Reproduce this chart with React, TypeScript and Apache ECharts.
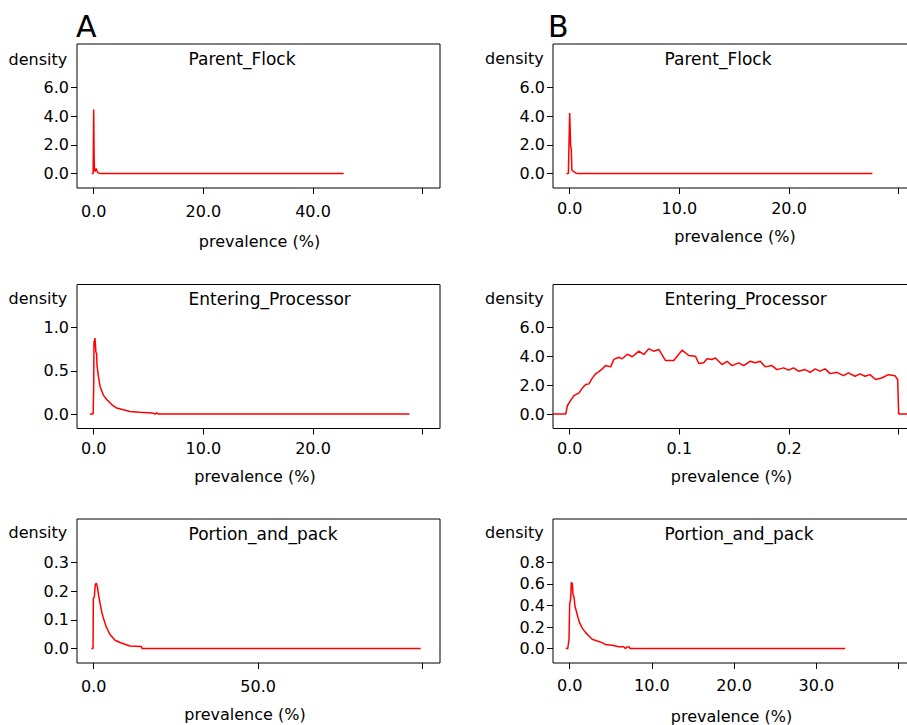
import React, { useEffect, useRef } from "react";
import * as echarts from "echarts";

const FONT = "DejaVu Sans";

// ---------- data (prevalence %, density) ----------
const aParentFlock: number[][] = [
  [-0.35, 0], [-0.1, 0], [0.0, 4.45], [0.08, 1.2], [0.14, 0.25], [0.3, 0.15],
  [0.45, 0.35], [0.6, 0.2], [0.8, 0.05], [1.2, 0], [45.6, 0],
];
const aEntering: number[][] = [
  [-0.35, 0], [-0.05, 0], [0.0, 0.3], [0.03, 0.85], [0.08, 0.82], [0.12, 0.88],
  [0.18, 0.88], [0.2, 0.72], [0.27, 0.7], [0.3, 0.57], [0.43, 0.44], [0.58, 0.32],
  [0.88, 0.22], [1.19, 0.17], [1.64, 0.11], [2.1, 0.07], [2.7, 0.05], [3.3, 0.03],
  [4.2, 0.02], [5.4, 0.012], [5.6, 0.0], [5.75, 0.015], [5.9, 0], [28.8, 0],
];
const aPortion: number[][] = [
  [-0.7, 0], [-0.2, 0], [-0.1, 0.174], [0.2, 0.18], [0.5, 0.223], [0.8, 0.227],
  [1.1, 0.216], [1.5, 0.185], [1.9, 0.16], [2.4, 0.13], [2.9, 0.108], [3.7, 0.079],
  [4.9, 0.05], [6.5, 0.029], [8.0, 0.021], [9.5, 0.015], [11.0, 0.009], [14.5, 0.007],
  [14.7, 0], [99.4, 0],
];
const bParentFlock: number[][] = [
  [-0.3, 0], [-0.12, 0], [0.0, 4.2], [0.09, 1.9], [0.15, 1.7], [0.2, 0.25],
  [0.3, 0.18], [0.55, 0.05], [0.7, 0], [27.6, 0],
];
const bEntering: number[][] = [
  [-0.015, 0], [-0.0036, 0], [-0.0021, 0.58], [0.0009, 0.95], [0.0039, 1.28],
  [0.0085, 1.47], [0.0115, 1.8], [0.0146, 2.05], [0.0176, 2.1], [0.0206, 2.5],
  [0.0237, 2.8], [0.0267, 2.95], [0.0297, 3.14], [0.0328, 3.37], [0.0373, 3.28],
  [0.0403, 3.8], [0.0449, 3.95], [0.0479, 3.84], [0.0525, 4.16], [0.057, 3.98],
  [0.0631, 4.37], [0.0676, 4.14], [0.0722, 4.53], [0.0767, 4.37], [0.0813, 4.49],
  [0.0874, 3.72], [0.0949, 3.72], [0.1025, 4.44], [0.1086, 4.07], [0.1147, 4.02],
  [0.1177, 3.51], [0.1222, 3.56], [0.1253, 3.84], [0.1298, 3.79], [0.1328, 3.9],
  [0.1389, 3.44], [0.1435, 3.67], [0.148, 3.37], [0.1541, 3.56], [0.1586, 3.37],
  [0.1647, 3.67], [0.1692, 3.56], [0.1738, 3.67], [0.1783, 3.28], [0.1844, 3.37],
  [0.189, 3.09], [0.195, 3.21], [0.1996, 3.05], [0.2041, 3.21], [0.2087, 2.98],
  [0.2147, 3.09], [0.2193, 2.9], [0.2238, 3.14], [0.2284, 2.98], [0.2329, 3.14],
  [0.2375, 2.81], [0.2436, 2.9], [0.2496, 2.67], [0.2542, 2.86], [0.2602, 2.63],
  [0.2648, 2.79], [0.2693, 2.63], [0.2739, 2.74], [0.279, 2.4], [0.2845, 2.51],
  [0.2906, 2.74], [0.2966, 2.67], [0.2991, 2.4], [0.3, 0], [0.32, 0],
];
const bPortion: number[][] = [
  [-0.48, 0], [-0.24, 0], [-0.08, 0.086], [0.0, 0.41], [0.12, 0.46], [0.2, 0.615],
  [0.32, 0.6], [0.4, 0.5], [0.52, 0.48], [0.65, 0.39], [0.8, 0.35], [1.0, 0.29],
  [1.2, 0.24], [1.53, 0.19], [1.94, 0.148], [2.34, 0.117], [2.74, 0.086], [3.35, 0.07],
  [3.95, 0.055], [4.35, 0.037], [5.16, 0.031], [5.97, 0.018], [6.57, 0.018], [6.77, 0],
  [6.98, 0.015], [7.26, 0.015], [7.34, 0], [33.5, 0],
];

// ---------- tick values ----------
const aParentXTicks = [0, 20, 40, 60];
const aParentXLabels = [0, 20, 40];
const aEnterXTicks = [0, 10, 20, 30];
const aEnterXLabels = [0, 10, 20];
const aPortionXTicks = [0, 50, 100];
const aPortionXLabels = [0, 50];
const bParentXTicks = [0, 10, 20, 30];
const bParentXLabels = [0, 10, 20];
const bEnterXTicks = [0, 0.1, 0.2, 0.3];
const bEnterXLabels = [0, 0.1, 0.2];
const bPortionXTicks = [0, 10, 20, 30, 40];
const bPortionXLabels = [0, 10, 20, 30];

const aParentYTicks = [0, 2, 4, 6];
const aEnterYTicks = [0, 0.5, 1.0];
const aPortionYTicks = [0, 0.1, 0.2, 0.3];
const bParentYTicks = [0, 2, 4, 6];
const bEnterYTicks = [0, 2, 4, 6];
const bPortionYTicks = [0, 0.2, 0.4, 0.6, 0.8];

const titles = ["Parent_Flock", "Entering_Processor", "Portion_and_pack"];
const panelLetters = ["A", "B"];
const yName = "density";
const xName = "prevalence (%)";

interface Panel {
  data: number[][];
  title: string;
  xTicks: number[];
  xLabels: number[];
  yTicks: number[];
  xLast: number;
  yLast: number;
  left: number;
  top: number;
  labelMargin: number;
  titleY: number;
  densityY: number;
  nameX: number;
  nameY: number;
}

const COLS = [77, 553];
const ROWS = [44, 284.5, 519];
const GW = 363;
const GH = 144;

const panels: Panel[] = [
  { data: aParentFlock, title: titles[0], xTicks: aParentXTicks, xLabels: aParentXLabels, yTicks: aParentYTicks, xLast: 60, yLast: 6, left: COLS[0], top: ROWS[0], labelMargin: 15, titleY: 58.5, densityY: 59.5, nameX: 259.5, nameY: 241 },
  { data: aEntering, title: titles[1], xTicks: aEnterXTicks, xLabels: aEnterXLabels, yTicks: aEnterYTicks, xLast: 30, yLast: 1.0, left: COLS[0], top: ROWS[1], labelMargin: 12, titleY: 299, densityY: 298.5, nameX: 255, nameY: 476 },
  { data: aPortion, title: titles[2], xTicks: aPortionXTicks, xLabels: aPortionXLabels, yTicks: aPortionYTicks, xLast: 100, yLast: 0.3, left: COLS[0], top: ROWS[2], labelMargin: 15, titleY: 533.5, densityY: 532, nameX: 245, nameY: 714 },
  { data: bParentFlock, title: titles[0], xTicks: bParentXTicks, xLabels: bParentXLabels, yTicks: bParentYTicks, xLast: 30, yLast: 6, left: COLS[1], top: ROWS[0], labelMargin: 12, titleY: 58.5, densityY: 58, nameX: 735, nameY: 236 },
  { data: bEntering, title: titles[1], xTicks: bEnterXTicks, xLabels: bEnterXLabels, yTicks: bEnterYTicks, xLast: 0.3, yLast: 6, left: COLS[1], top: ROWS[1], labelMargin: 12, titleY: 299, densityY: 298.5, nameX: 731.5, nameY: 476 },
  { data: bPortion, title: titles[2], xTicks: bPortionXTicks, xLabels: bPortionXLabels, yTicks: bPortionYTicks, xLast: 40, yLast: 0.8, left: COLS[1], top: ROWS[2], labelMargin: 14, titleY: 533.5, densityY: 532.5, nameX: 731.5, nameY: 716 },
];

const textStyle = (size: number) => ({ fontFamily: FONT, fontSize: size, color: "#000" });

export default function App() {
  const ref = useRef<HTMLDivElement>(null);

  useEffect(() => {
    document.body.style.margin = "0";
    if (!ref.current) return;
    const chart = echarts.init(ref.current, undefined, { renderer: "svg" });

    const grid = panels.map((p) => ({
      left: p.left,
      top: p.top,
      width: GW,
      height: GH,
      show: true,
      borderColor: "#000",
      borderWidth: 1,
      backgroundColor: "transparent",
      containLabel: false,
      outerBoundsMode: "none",
    }));

    const xAxis = panels.map((p, i) => ({
      type: "value",
      gridIndex: i,
      position: "bottom",
      min: -0.0507 * p.xLast,
      max: 1.0527 * p.xLast,
      splitLine: { show: false },
      axisLine: { show: false, onZero: false },
      axisTick: {
        show: true,
        inside: false,
        length: 6,
        customValues: p.xTicks,
        lineStyle: { color: "#000", width: 1 },
      },
      axisLabel: {
        show: true,
        margin: p.labelMargin,
        customValues: p.xLabels,
        formatter: (v: number) => v.toFixed(1),
        ...textStyle(16),
      },
    }));

    const yAxis = panels.map((p, i) => ({
      type: "value",
      gridIndex: i,
      position: "left",
      min: -p.yLast / 6,
      max: 1.5 * p.yLast,
      splitLine: { show: false },
      axisLine: { show: false, onZero: false },
      axisTick: {
        show: true,
        inside: false,
        length: 6,
        customValues: p.yTicks,
        lineStyle: { color: "#000", width: 1 },
      },
      axisLabel: {
        show: true,
        margin: 8,
        customValues: p.yTicks,
        formatter: (v: number) => v.toFixed(1),
        ...textStyle(16),
      },
    }));

    const series = panels.map((p, i) => ({
      type: "line",
      xAxisIndex: i,
      yAxisIndex: i,
      data: p.data,
      showSymbol: false,
      symbol: "none",
      lineStyle: { color: "#ff0000", width: 1.5 },
      clip: true,
    }));

    const graphic: any[] = [];
    panels.forEach((p) => {
      graphic.push({
        type: "text",
        x: p.left + 111.5,
        y: p.titleY,
        style: { text: p.title, fontFamily: FONT, fontSize: 17, fill: "#000", align: "left", verticalAlign: "middle" },
      });
      graphic.push({
        type: "text",
        x: p.left === COLS[0] ? 8.5 : 485,
        y: p.densityY,
        style: { text: yName, fontFamily: FONT, fontSize: 16, fill: "#000", align: "left", verticalAlign: "middle" },
      });
      graphic.push({
        type: "text",
        x: p.nameX,
        y: p.nameY,
        style: { text: xName, fontFamily: FONT, fontSize: 16, fill: "#000", align: "center", verticalAlign: "middle" },
      });
    });
    panelLetters.forEach((l, i) => {
      graphic.push({
        type: "text",
        x: i === 0 ? 76 : 548,
        y: 26.5,
        style: { text: l, fontFamily: FONT, fontSize: 30, fill: "#000", align: "left", verticalAlign: "middle" },
      });
    });

    chart.setOption({
      animation: false,
      backgroundColor: "#fff",
      grid,
      xAxis,
      yAxis,
      series,
      graphic,
    } as any);

    return () => chart.dispose();
  }, []);

  return (
    <div
      ref={ref}
      style={{ position: "absolute", left: 0, top: 0, width: 907, height: 725 }}
    />
  );
}
